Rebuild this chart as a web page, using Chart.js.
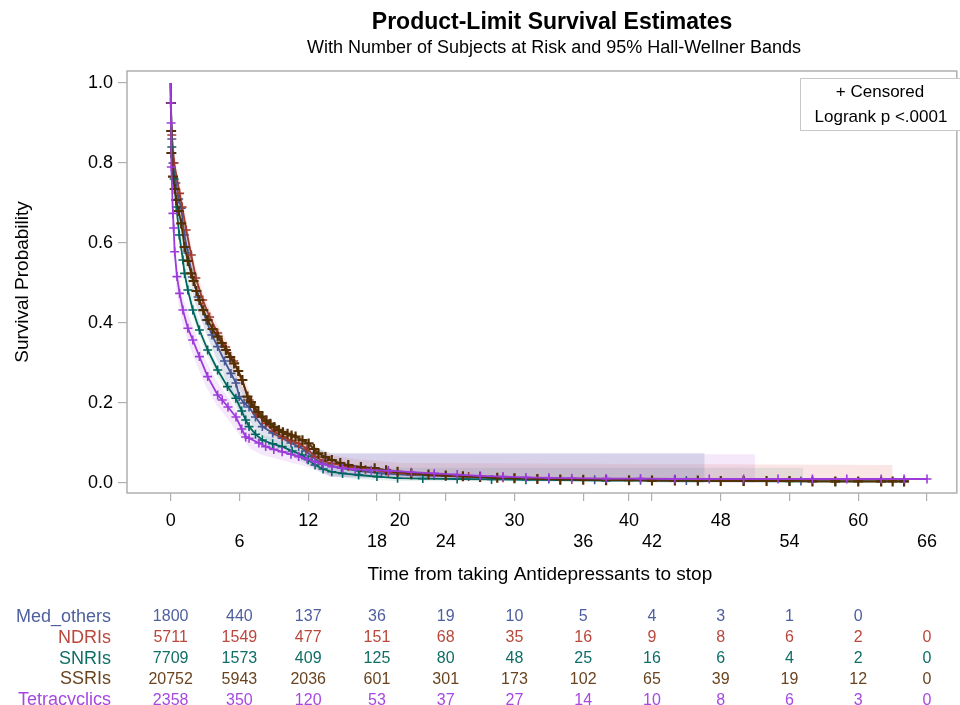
<!DOCTYPE html>
<html>
<head>
<meta charset="utf-8">
<title>Product-Limit Survival Estimates</title>
<script src="https://cdn.jsdelivr.net/npm/chart.js@4.4.1/dist/chart.umd.min.js"></script>
<style>
  html, body { margin: 0; padding: 0; background: #fff; }
  #km { display: block; }
</style>
</head>
<body>
<canvas id="km" width="960" height="705"></canvas>
<script>
var groups = ['Med_others', 'NDRIs', 'SNRIs', 'SSRIs', 'Tetracyclics'];
var lineColors = ['#445694', '#A23A2E', '#01665E', '#543005', '#9D3CDB'];
var textColors = ['#4d5f9e', '#b9473c', '#0e6e66', '#6a4420', '#a649e0'];
var bandColors = ['rgba(111,126,179,0.22)', 'rgba(225,120,110,0.18)', 'rgba(80,150,140,0.15)',
                  'rgba(160,120,70,0.15)', 'rgba(200,140,230,0.2)'];

var xTicks = [0, 6, 12, 18, 20, 24, 30, 36, 40, 42, 48, 54, 60, 66];
var yTicks = [0, 0.2, 0.4, 0.6, 0.8, 1.0];
var riskTimes = [0, 6, 12, 18, 24, 30, 36, 42, 48, 54, 60, 66];

// number at risk
var medRisk = [1800, 440, 137, 36, 19, 10, 5, 4, 3, 1, 0];
var ndriRisk = [5711, 1549, 477, 151, 68, 35, 16, 9, 8, 6, 2, 0];
var snriRisk = [7709, 1573, 409, 125, 80, 48, 25, 16, 6, 4, 2, 0];
var ssriRisk = [20752, 5943, 2036, 601, 301, 173, 102, 65, 39, 19, 12, 0];
var tetraRisk = [2358, 350, 120, 53, 37, 27, 14, 10, 8, 6, 3, 0];

// survival curves (months, estimate) - censored points marked with +
var medT = [0, 0.02, 0.1, 0.2, 0.45, 0.7, 0.92, 1.2, 1.5, 1.9, 2.4, 3.09, 3.6, 4.1, 4.7, 5.26, 5.7, 5.98, 6.4, 6.84, 7.4, 8.0, 8.9, 9.73, 10.5, 11.17, 11.8, 12.33, 13.2, 14.9, 16.5, 18.4, 21, 24, 27, 30, 33, 37, 41, 45, 50, 55];
var medS = [1.0, 0.95, 0.86, 0.8, 0.75, 0.71, 0.687, 0.62, 0.575, 0.515, 0.465, 0.4075, 0.37, 0.341, 0.305, 0.274, 0.25, 0.216, 0.2, 0.19, 0.165, 0.141, 0.125, 0.112, 0.1, 0.091, 0.08, 0.066, 0.049, 0.037, 0.03, 0.024, 0.02, 0.017, 0.014, 0.012, 0.01, 0.008, 0.007, 0.006, 0.005, 0.005];

var ndriT = [0, 0.02, 0.1, 0.3, 0.78, 1.0, 1.36, 1.8, 2.2, 2.8, 3.4, 4.1, 4.8, 5.5, 6.2, 6.84, 7.5, 8.29, 9.0, 9.73, 10.5, 11.17, 11.9, 12.6, 13.3, 14.06, 15.5, 17, 19, 21, 23, 26, 29, 32, 35, 38, 42, 46, 50, 54, 58, 62, 64];
var ndriS = [1.0, 0.95, 0.87, 0.8, 0.724, 0.69, 0.6325, 0.57, 0.5125, 0.4575, 0.415, 0.375, 0.34, 0.305, 0.258, 0.2075, 0.175, 0.149, 0.13, 0.116, 0.106, 0.099, 0.085, 0.066, 0.055, 0.049, 0.041, 0.034, 0.027, 0.022, 0.019, 0.016, 0.013, 0.011, 0.009, 0.008, 0.007, 0.006, 0.005, 0.005, 0.004, 0.004, 0.004];

var snriT = [0, 0.02, 0.1, 0.3, 0.5, 0.75, 1.07, 1.21, 1.5, 1.93, 2.51, 3.23, 4.1, 4.96, 5.69, 6.2, 6.55, 6.84, 7.4, 8.0, 8.9, 9.73, 10.6, 11.46, 12.0, 12.6, 13.3, 14.06, 15, 16.4, 18, 19.8, 22, 25, 28, 31, 34, 38, 42, 46, 50, 54, 58, 62, 64];
var snriS = [1.0, 0.95, 0.84, 0.76, 0.69, 0.62, 0.5575, 0.524, 0.4825, 0.4325, 0.3825, 0.3325, 0.2825, 0.241, 0.212, 0.18, 0.1575, 0.141, 0.122, 0.1075, 0.098, 0.091, 0.08, 0.07, 0.058, 0.045, 0.035, 0.028, 0.024, 0.02, 0.016, 0.012, 0.011, 0.01, 0.009, 0.008, 0.007, 0.006, 0.006, 0.005, 0.005, 0.004, 0.004, 0.004, 0.004];

var ssriT = [0, 0.02, 0.04, 0.06, 0.2, 0.35, 0.49, 0.7, 0.92, 1.21, 1.5, 1.79, 2.0, 2.25, 2.51, 2.85, 3.23, 3.65, 4.1, 4.45, 4.82, 5.2, 5.54, 5.9, 6.26, 6.7, 7.0, 7.3, 7.65, 8.0, 8.35, 8.7, 9.05, 9.44, 9.8, 10.2, 10.55, 10.9, 11.5, 12.04, 12.5, 12.9, 13.5, 14.06, 14.8, 15.5, 16.6, 17.8, 18.8, 19.8, 21, 22.5, 24, 25.5, 27, 28.5, 30, 32, 34, 36, 38, 40, 42, 44, 46, 48, 50, 52, 54, 56, 58, 60, 62, 63, 64];
var ssriS = [1.0, 0.95, 0.88, 0.825, 0.766, 0.735, 0.7075, 0.68, 0.649, 0.59, 0.555, 0.524, 0.505, 0.48, 0.4575, 0.432, 0.4075, 0.385, 0.366, 0.35, 0.3325, 0.315, 0.299, 0.28, 0.2575, 0.216, 0.202, 0.19, 0.177, 0.166, 0.156, 0.148, 0.14, 0.1325, 0.127, 0.123, 0.119, 0.116, 0.107, 0.099, 0.085, 0.074, 0.065, 0.0575, 0.05, 0.045, 0.04, 0.037, 0.032, 0.028, 0.024, 0.021, 0.019, 0.017, 0.015, 0.013, 0.012, 0.01, 0.009, 0.008, 0.007, 0.007, 0.006, 0.006, 0.006, 0.005, 0.005, 0.005, 0.005, 0.004, 0.004, 0.004, 0.004, 0.004, 0.004];

var tetraT = [0, 0.02, 0.04, 0.06, 0.2, 0.26, 0.35, 0.55, 0.78, 1.07, 1.5, 1.93, 2.51, 3.23, 4.1, 4.5, 5.0, 5.7, 6.2, 6.55, 6.84, 7.7, 8.29, 9.0, 9.73, 10.5, 11.17, 11.9, 12.6, 13.3, 14.06, 15, 16.1, 17.5, 19, 21, 23, 25, 27, 29, 31, 33, 35, 38, 41, 44, 47, 50, 53, 56, 59, 62, 64, 66];
var tetraS = [1.0, 0.95, 0.9, 0.79, 0.674, 0.6375, 0.578, 0.516, 0.474, 0.4325, 0.387, 0.3575, 0.316, 0.266, 0.22, 0.2075, 0.19, 0.165, 0.135, 0.115, 0.112, 0.1, 0.091, 0.084, 0.078, 0.072, 0.066, 0.06, 0.053, 0.047, 0.041, 0.037, 0.034, 0.032, 0.031, 0.027, 0.024, 0.021, 0.018, 0.016, 0.014, 0.013, 0.012, 0.011, 0.011, 0.01, 0.01, 0.01, 0.01, 0.01, 0.01, 0.01, 0.01, 0.01];

// 95% Hall-Wellner bands
var medBandT = [0.05, 0.5, 1, 2, 3, 4, 5, 6, 7, 8, 9, 10, 11, 12, 13, 14, 46.6];
var medBandHi = [0.9, 0.78, 0.71, 0.54, 0.45, 0.38, 0.32, 0.25, 0.21, 0.17, 0.15, 0.135, 0.12, 0.105, 0.085, 0.075, 0.075];
var medBandLo = [0.8, 0.69, 0.63, 0.46, 0.38, 0.31, 0.25, 0.18, 0.15, 0.115, 0.1, 0.085, 0.07, 0.05, 0.03, 0.015, 0];

var ndriBandT = [0.05, 0.5, 1, 2, 3, 4, 5, 6, 7, 8, 9, 10, 11, 12, 13, 14, 16, 20, 63];
var ndriBandHi = [0.9, 0.79, 0.72, 0.56, 0.46, 0.4, 0.35, 0.29, 0.22, 0.175, 0.15, 0.13, 0.12, 0.1, 0.08, 0.07, 0.06, 0.05, 0.045];
var ndriBandLo = [0.84, 0.73, 0.66, 0.5, 0.42, 0.35, 0.3, 0.24, 0.18, 0.14, 0.115, 0.1, 0.09, 0.07, 0.05, 0.04, 0.03, 0.018, 0];

var snriBandT = [0.05, 0.5, 1, 2, 3, 4, 5, 6, 7, 8, 10, 12, 14, 16, 20, 55.2];
var snriBandHi = [0.88, 0.72, 0.62, 0.45, 0.36, 0.3, 0.255, 0.205, 0.145, 0.12, 0.1, 0.07, 0.045, 0.04, 0.038, 0.038];
var snriBandLo = [0.8, 0.67, 0.56, 0.41, 0.33, 0.27, 0.225, 0.175, 0.12, 0.095, 0.075, 0.045, 0.02, 0.01, 0.005, 0];

var ssriBandT = [0.05, 0.5, 1, 2, 3, 4, 5, 6, 7, 8, 10, 12, 14, 16, 20, 30, 64];
var ssriBandHi = [0.82, 0.72, 0.65, 0.515, 0.43, 0.38, 0.335, 0.28, 0.21, 0.172, 0.13, 0.105, 0.063, 0.046, 0.032, 0.017, 0.01];
var ssriBandLo = [0.79, 0.69, 0.62, 0.495, 0.41, 0.36, 0.315, 0.26, 0.195, 0.16, 0.12, 0.093, 0.053, 0.038, 0.024, 0.008, 0];

var tetraBandT = [0.05, 0.2, 0.5, 1, 2, 3, 4, 5, 6, 7, 8, 10, 12, 14, 51];
var tetraBandHi = [0.8, 0.71, 0.56, 0.47, 0.385, 0.31, 0.255, 0.215, 0.17, 0.13, 0.11, 0.09, 0.075, 0.072, 0.072];
var tetraBandLo = [0.7, 0.64, 0.48, 0.4, 0.315, 0.245, 0.195, 0.16, 0.12, 0.085, 0.07, 0.055, 0.04, 0.015, 0];

var curveT = [medT, ndriT, snriT, ssriT, tetraT];
var curveS = [medS, ndriS, snriS, ssriS, tetraS];
var bandT = [medBandT, ndriBandT, snriBandT, ssriBandT, tetraBandT];
var bandHi = [medBandHi, ndriBandHi, snriBandHi, ssriBandHi, tetraBandHi];
var bandLo = [medBandLo, ndriBandLo, snriBandLo, ssriBandLo, tetraBandLo];
var atRisk = [medRisk, ndriRisk, snriRisk, ssriRisk, tetraRisk];

function pts(t, s) {
  var out = [];
  for (var i = 0; i < Math.min(t.length, s.length); i++) out.push({ x: t[i], y: s[i] });
  return out;
}

var datasets = [];
// bands first (behind everything)
groups.forEach(function (g, i) {
  datasets.push({
    label: g + ' band upper',
    data: pts(bandT[i], bandHi[i]),
    borderWidth: 0,
    pointRadius: 0,
    backgroundColor: bandColors[i],
    fill: '+1',
    order: 20 + i
  });
  datasets.push({
    label: g + ' band lower',
    data: pts(bandT[i], bandLo[i]),
    borderWidth: 0,
    pointRadius: 0,
    fill: false,
    order: 20 + i
  });
});
// survival curves, Tetracyclics on top
groups.forEach(function (g, i) {
  var heavy = g === 'SSRIs';
  datasets.push({
    label: g,
    data: pts(curveT[i], curveS[i]),
    borderColor: lineColors[i],
    borderWidth: 1.8,
    fill: false,
    pointStyle: 'cross',
    pointRadius: function (c) { return c.dataIndex === 0 ? 0 : (heavy ? 5 : 4.5); },
    pointBorderWidth: heavy ? 2.2 : 1.6,
    pointBorderColor: lineColors[i],
    order: 10 - i
  });
});

var kmDecor = {
  id: 'kmDecor',
  beforeDatasetsDraw: function (chart) {
    var a = chart.chartArea, ctx = chart.ctx;
    ctx.save();
    ctx.strokeStyle = '#b0b0b0';
    ctx.lineWidth = 1.5;
    ctx.strokeRect(a.left, a.top, a.right - a.left + 4, a.bottom - a.top);
    ctx.restore();
  },
  afterDraw: function (chart) {
    var ctx = chart.ctx, xs = chart.scales.x;
    ctx.save();
    ctx.textAlign = 'center';
    ctx.textBaseline = 'middle';
    ctx.fillStyle = '#000';
    ctx.font = 'bold 23px "Liberation Sans", Arial, sans-serif';
    ctx.fillText('Product-Limit Survival Estimates', 552, 23);
    ctx.font = '18px "Liberation Sans", Arial, sans-serif';
    ctx.fillText('With Number of Subjects at Risk and 95% Hall-Wellner Bands', 554, 48);

    // inset box
    ctx.fillStyle = '#fff';
    ctx.fillRect(800, 78, 160, 52);
    ctx.strokeStyle = '#c8c8c8';
    ctx.lineWidth = 1;
    ctx.strokeRect(800.5, 78.5, 165, 52);
    ctx.fillStyle = '#000';
    ctx.font = '17px "Liberation Sans", Arial, sans-serif';
    ctx.fillText('+ Censored', 880, 92);
    ctx.fillText('Logrank p <.0001', 881, 117);

    // at-risk table
    groups.forEach(function (g, i) {
      var y = 617 + i * 20.8;
      ctx.fillStyle = textColors[i];
      ctx.textAlign = 'right';
      ctx.font = '18px "Liberation Sans", Arial, sans-serif';
      ctx.fillText(g, 111, y);
      ctx.textAlign = 'center';
      ctx.font = '16px "Liberation Sans", Arial, sans-serif';
      atRisk[i].forEach(function (n, k) {
        ctx.fillText(String(n), xs.getPixelForValue(riskTimes[k]), y);
      });
    });
    ctx.restore();
  }
};

new Chart(document.getElementById('km').getContext('2d'), {
  type: 'line',
  data: { datasets: datasets },
  options: {
    responsive: false,
    animation: false,
    layout: { padding: { top: 71, right: 1, bottom: 0, left: 0 } },
    elements: { line: { tension: 0 } },
    plugins: {
      legend: { display: false },
      tooltip: { enabled: false },
      title: { display: false }
    },
    scales: {
      x: {
        type: 'linear',
        min: -3.81,
        max: 68.25,
        afterFit: function (s) { s.height = 212; },
        afterBuildTicks: function (s) { s.ticks = xTicks.map(function (v) { return { value: v }; }); },
        ticks: {
          autoSkip: false,
          maxRotation: 0,
          minRotation: 0,
          padding: 9,
          color: '#000',
          font: { family: '"Liberation Sans", Arial, sans-serif', size: 18 },
          callback: function (v, i) { return i % 2 === 0 ? [String(v), ''] : ['', String(v)]; }
        },
        grid: { drawOnChartArea: false, tickLength: 8, color: '#b0b0b0', lineWidth: 1.2 },
        border: { display: false },
        title: {
          display: true,
          text: 'Time from taking Antidepressants to stop',
          color: '#000',
          font: { family: '"Liberation Sans", Arial, sans-serif', size: 19 },
          padding: { top: 0, bottom: 119 }
        }
      },
      y: {
        type: 'linear',
        min: -0.025,
        max: 1.03,
        afterFit: function (s) { s.width = 127; },
        afterBuildTicks: function (s) { s.ticks = yTicks.map(function (v) { return { value: v }; }); },
        ticks: {
          padding: 5,
          color: '#000',
          font: { family: '"Liberation Sans", Arial, sans-serif', size: 18 },
          callback: function (v) { return v.toFixed(1); }
        },
        grid: { drawOnChartArea: false, tickLength: 9, color: '#b0b0b0', lineWidth: 1.2 },
        border: { display: false },
        title: {
          display: true,
          text: 'Survival Probability',
          color: '#000',
          font: { family: '"Liberation Sans", Arial, sans-serif', size: 19 },
          padding: { top: 11, bottom: 0 }
        }
      }
    }
  },
  plugins: [kmDecor]
});
</script>
</body>
</html>
